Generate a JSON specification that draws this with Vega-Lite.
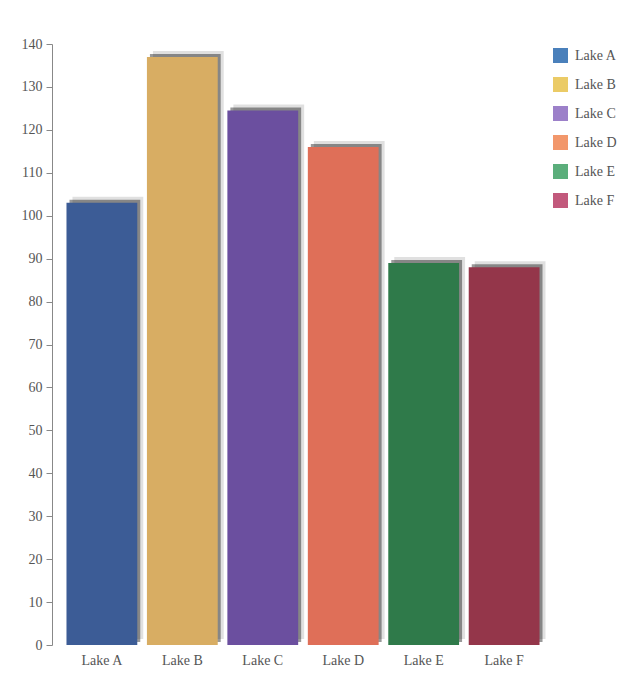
{
  "$schema": "https://vega.github.io/schema/vega-lite/v6.json",
  "autosize": "none",
  "padding": {"left": 52, "top": 44, "right": 89, "bottom": 35},
  "width": 502,
  "height": 601,
  "background": "white",
  "config": {
    "font": "Liberation Serif",
    "view": {"stroke": null},
    "axis": {"labelFont": "Liberation Serif", "labelFontSize": 14, "labelColor": "#555", "title": null, "grid": false}
  },
  "data": {
    "values": [
      {"lake": "Lake A", "value": 103},
      {"lake": "Lake B", "value": 137},
      {"lake": "Lake C", "value": 124.5},
      {"lake": "Lake D", "value": 116},
      {"lake": "Lake E", "value": 89},
      {"lake": "Lake F", "value": 88}
    ]
  },
  "encoding": {
    "x": {
      "field": "lake",
      "type": "nominal",
      "sort": null,
      "scale": {"paddingInner": 0.12, "paddingOuter": 0.18},
      "axis": {"labelAngle": 0, "domain": false, "ticks": false, "labelPadding": 8}
    },
    "y": {
      "field": "value",
      "type": "quantitative",
      "scale": {"domain": [0, 140], "nice": false},
      "axis": {"values": [0, 10, 20, 30, 40, 50, 60, 70, 80, 90, 100, 110, 120, 130, 140], "domainColor": "#888", "tickColor": "#888", "tickSize": 6, "labelPadding": 4}
    }
  },
  "layer": [
    {
      "mark": {"type": "bar", "color": "#000", "opacity": 0.12, "xOffset": 6, "yOffset": -6},
      "encoding": {}
    },
    {
      "mark": {"type": "bar", "color": "#000", "opacity": 0.4, "xOffset": 3, "yOffset": -3},
      "encoding": {}
    },
    {
      "mark": {"type": "bar"},
      "encoding": {
        "color": {
          "field": "lake",
          "type": "nominal",
          "scale": {
            "domain": ["Lake A", "Lake B", "Lake C", "Lake D", "Lake E", "Lake F"],
            "range": ["#3c5c96", "#d8ad63", "#6b4f9f", "#df6f58", "#2f7a4a", "#94364a"]
          },
          "legend": null
        }
      }
    },
    {
      "mark": {"type": "bar", "opacity": 0},
      "encoding": {
        "fill": {
          "field": "lake",
          "type": "nominal",
          "scale": {
            "domain": ["Lake A", "Lake B", "Lake C", "Lake D", "Lake E", "Lake F"],
            "range": ["#4a80bb", "#ebcb66", "#9c80c9", "#f2976b", "#5bae7b", "#c2597c"]
          },
          "legend": {
            "title": null,
            "orient": "none",
            "legendX": 501,
            "legendY": 4,
            "symbolType": "square",
            "symbolSize": 225,
            "symbolOpacity": 1,
            "symbolStrokeWidth": 0,
            "rowPadding": 14,
            "labelFont": "Liberation Serif",
            "labelFontSize": 14,
            "labelColor": "#555",
            "labelOffset": 7
          }
        }
      }
    }
  ],
  "resolve": {"scale": {"color": "independent", "fill": "independent"}}
}
